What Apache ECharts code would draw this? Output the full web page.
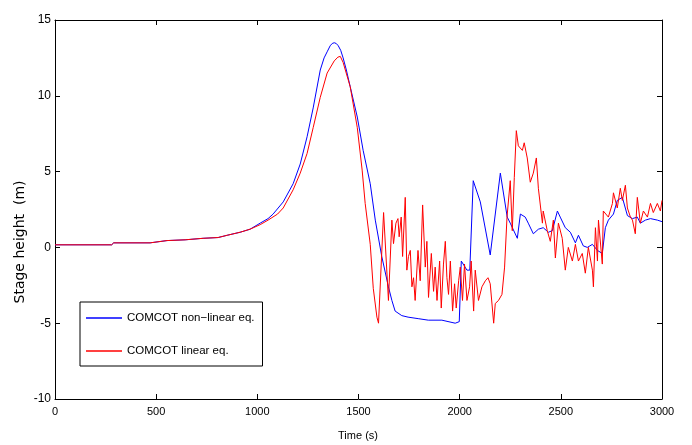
<!DOCTYPE html>
<html>
<head>
<meta charset="utf-8">
<script src="https://cdn.jsdelivr.net/npm/echarts@6/dist/echarts.min.js"></script>
<style>html,body{margin:0;padding:0;background:#fff}#c{width:692px;height:445px}</style>
</head>
<body>
<div id="c"></div>
<script>
// ---- data ----
var xTicks = [0, 500, 1000, 1500, 2000, 2500, 3000];
var yTicks = [-10, -5, 0, 5, 10, 15];
var seriesNames = ['COMCOT non\u2212linear eq.', 'COMCOT linear eq.'];

var nonlinearTime = [0, 280, 290, 470, 554, 643, 732, 806, 851, 915, 964, 1014, 1053, 1078, 1128, 1177, 1212, 1246, 1276, 1311, 1330, 1345, 1360, 1370, 1380, 1390, 1400, 1412, 1424, 1440, 1459, 1494, 1523, 1558, 1583, 1615, 1648, 1665, 1681, 1714, 1745, 1795, 1845, 1912, 1978, 1998, 2008, 2036, 2050, 2067, 2102, 2151, 2201, 2235, 2250, 2285, 2300, 2324, 2339, 2364, 2389, 2413, 2438, 2458, 2483, 2497, 2522, 2547, 2572, 2587, 2611, 2631, 2656, 2681, 2705, 2720, 2735, 2760, 2779, 2804, 2829, 2854, 2878, 2893, 2918, 2943, 2977, 3000];
var nonlinearStage = [0.17, 0.17, 0.3, 0.3, 0.45, 0.5, 0.6, 0.65, 0.8, 1.0, 1.2, 1.6, 1.9, 2.2, 3.0, 4.2, 5.5, 7.3, 9.2, 11.7, 12.5, 12.9, 13.3, 13.45, 13.5, 13.45, 13.3, 13.0, 12.5, 11.7, 10.6, 8.6, 6.4, 4.2, 1.8, -0.6, -2.6, -3.5, -4.2, -4.5, -4.6, -4.7, -4.8, -4.8, -5.0, -4.9, -0.9, -1.5, -1.5, 4.4, 3.0, -0.5, 4.9, 2.0, 1.6, 0.6, 2.2, 2.0, 1.6, 0.9, 1.2, 1.3, 1.0, 1.1, 2.4, 2.0, 1.3, 1.0, 0.3, 0.8, 0.1, 0.0, 0.2, -0.2, -0.4, 1.3, 1.8, 2.2, 3.1, 3.3, 2.1, 1.9, 2.0, 1.6, 1.8, 1.9, 1.8, 1.7];

var linearTime = [0, 280, 290, 470, 554, 643, 732, 806, 851, 915, 964, 1014, 1053, 1100, 1128, 1177, 1212, 1246, 1276, 1311, 1345, 1380, 1398, 1410, 1424, 1459, 1494, 1518, 1533, 1558, 1573, 1591, 1599, 1624, 1648, 1665, 1673, 1685, 1695, 1701, 1711, 1718, 1731, 1739, 1747, 1756, 1764, 1772, 1780, 1794, 1805, 1817, 1830, 1838, 1846, 1860, 1871, 1879, 1888, 1901, 1909, 1920, 1929, 1937, 1945, 1954, 1965, 1975, 1983, 1995, 2003, 2014, 2024, 2036, 2049, 2057, 2069, 2077, 2093, 2110, 2127, 2140, 2151, 2168, 2176, 2192, 2209, 2222, 2234, 2250, 2260, 2270, 2280, 2290, 2310, 2319, 2334, 2349, 2364, 2379, 2389, 2409, 2413, 2433, 2448, 2463, 2473, 2488, 2507, 2522, 2537, 2557, 2572, 2587, 2606, 2621, 2636, 2656, 2661, 2671, 2681, 2686, 2705, 2710, 2735, 2755, 2760, 2779, 2794, 2804, 2819, 2829, 2844, 2854, 2868, 2878, 2893, 2908, 2928, 2943, 2957, 2977, 2992, 3000];
var linearStage = [0.17, 0.17, 0.3, 0.3, 0.45, 0.5, 0.6, 0.65, 0.8, 1.0, 1.2, 1.5, 1.8, 2.2, 2.6, 3.8, 4.9, 6.2, 7.9, 9.9, 11.5, 12.3, 12.55, 12.6, 12.2, 10.6, 7.9, 5.1, 2.9, 0.2, -2.7, -4.6, -5.0, 2.3, -3.5, 1.8, 0.25, 1.6, 1.9, 0.7, 2.0, -0.6, 3.3, -1.5, -0.6, -0.2, -2.6, -2.0, -3.5, -0.2, -2.2, 2.8, -1.3, 0.4, -3.3, -0.4, -2.9, -1.3, -3.5, -0.9, -4.0, -1.1, 0.4, -2.0, -3.1, -0.9, -4.2, -2.4, -4.0, -2.2, -1.3, -3.5, -1.1, -3.5, -2.6, -0.9, -4.2, -1.5, -3.5, -2.6, -2.2, -2.0, -2.4, -5.0, -3.7, -3.5, -3.1, -1.3, 2.0, 4.4, 1.1, 4.6, 7.7, 6.7, 6.4, 6.9, 5.9, 4.3, 4.9, 5.9, 3.9, 1.6, 2.4, 1.1, 0.4, 1.8, -0.7, 1.6, 0.6, -1.5, 0.0, -0.9, 0.2, -0.9, -0.4, -1.7, 0.0, -1.5, -2.6, 1.3, -0.9, 1.8, -1.1, 2.4, 2.0, 2.9, 3.6, 2.6, 3.9, 3.1, 4.1, 2.6, 2.0, 1.8, 0.9, 3.3, 1.6, 2.4, 2.0, 2.9, 2.3, 2.9, 2.4, 3.1];

function zip(t, v) { var out = []; for (var i = 0; i < t.length; i++) out.push([t[i], v[i]]); return out; }

var tickFont = '"Liberation Sans", Arial, sans-serif';
var chart = echarts.init(document.getElementById('c'), null, { renderer: 'canvas' });

function xAx(pos, labels) {
  return {
    type: 'value', position: pos, min: xTicks[0], max: xTicks[xTicks.length - 1],
    interval: xTicks[1] - xTicks[0],
    axisLine: { show: true, onZero: false, lineStyle: { color: '#000', width: 1 } },
    axisTick: { show: true, inside: true, length: 5, lineStyle: { color: '#000' } },
    axisLabel: { show: labels, color: '#000', fontFamily: tickFont, fontSize: 11, margin: 7,
      formatter: function (v) { return String(v); } },
    splitLine: { show: false }
  };
}
function yAx(pos, labels) {
  return {
    type: 'value', position: pos, min: yTicks[0], max: yTicks[yTicks.length - 1],
    interval: yTicks[1] - yTicks[0],
    axisLine: { show: true, onZero: false, lineStyle: { color: '#000', width: 1 } },
    axisTick: { show: true, inside: true, length: 5, lineStyle: { color: '#000' } },
    axisLabel: { show: labels, color: '#000', fontFamily: tickFont, fontSize: 12, margin: 4,
      formatter: function (v) { return String(v); } },
    splitLine: { show: false }
  };
}

chart.setOption({
  animation: false,
  backgroundColor: '#fff',
  grid: { left: 55, top: 20, right: 30, bottom: 46, containLabel: false },
  xAxis: [xAx('bottom', true), xAx('top', false)],
  yAxis: [yAx('left', true), yAx('right', false)],
  legend: {
    orient: 'vertical', left: 80, top: 302,
    data: seriesNames,
    icon: 'rect', itemWidth: 36, itemHeight: 1.5, itemGap: 21,
    backgroundColor: '#fff',
    borderColor: '#000', borderWidth: 1, borderRadius: 0,
    padding: [10, 8, 9, 6],
    textStyle: { color: '#000', fontFamily: 'Liberation Sans, Arial, sans-serif', fontSize: 11.5 }
  },
  graphic: [
    { type: 'text', x: 20, y: 242, rotation: Math.PI / 2,
      style: { text: 'Stage height  (m)', fill: '#000', font: '14px "DejaVu Sans", sans-serif', textAlign: 'center', textVerticalAlign: 'middle' } },
    { type: 'text', x: 358, y: 436,
      style: { text: 'Time (s)', fill: '#000', font: '11px "Liberation Sans", Arial, sans-serif', textAlign: 'center', textVerticalAlign: 'middle' } }
  ],
  series: [
    { name: seriesNames[0], type: 'line', data: zip(nonlinearTime, nonlinearStage), showSymbol: false, symbol: 'none',
      lineStyle: { color: '#0000ff', width: 1 }, itemStyle: { color: '#0000ff' }, z: 3 },
    { name: seriesNames[1], type: 'line', data: zip(linearTime, linearStage), showSymbol: false, symbol: 'none',
      lineStyle: { color: '#ff0000', width: 1 }, itemStyle: { color: '#ff0000' }, z: 4 }
  ]
});
</script>
</body>
</html>
